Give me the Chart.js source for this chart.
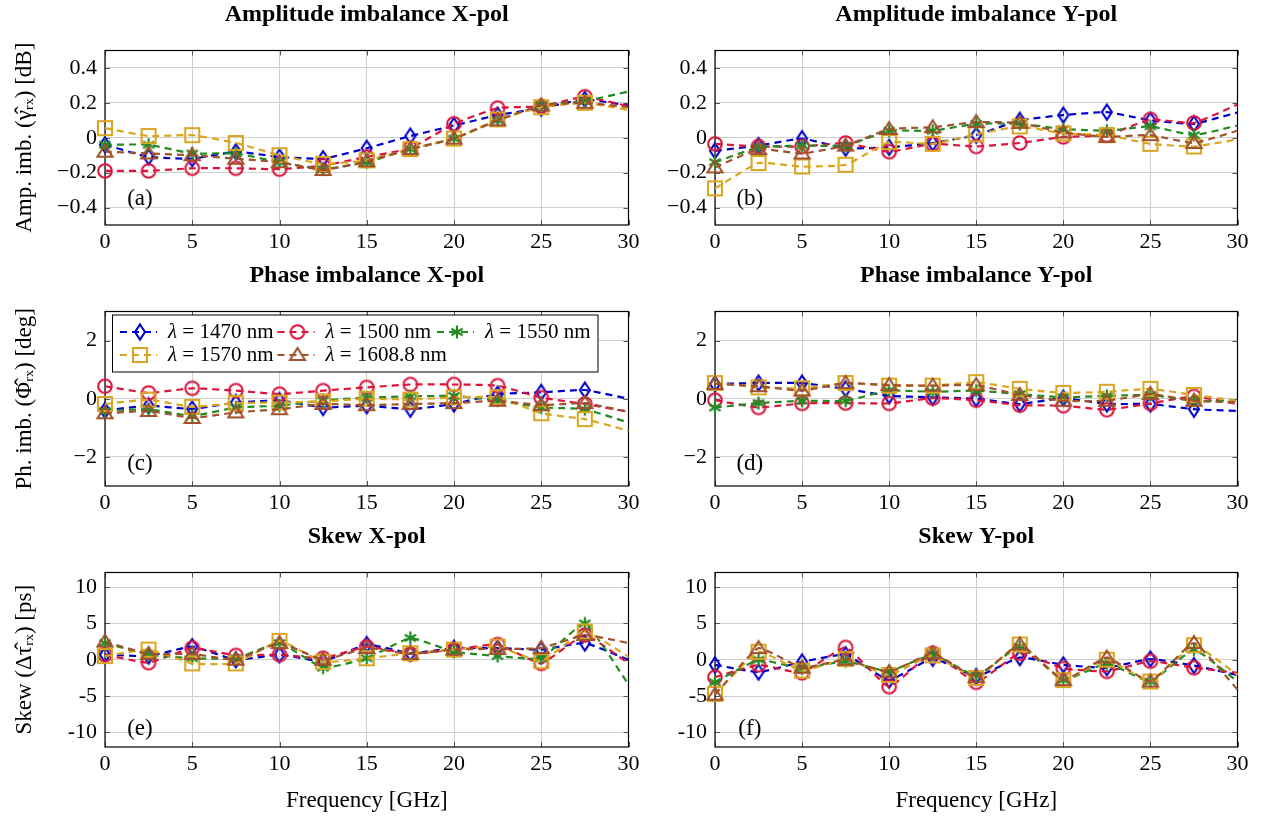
<!DOCTYPE html>
<html>
<head>
<meta charset="utf-8">
<script src="https://cdn.jsdelivr.net/npm/chart.js"></script>
<style>
  body { margin: 0; background: #fff; width: 1261px; height: 816px; overflow: hidden; position: relative; }
  canvas { position: absolute; }
</style>
</head>
<body>
<canvas id="pa"></canvas>
<canvas id="pb"></canvas>
<canvas id="pc"></canvas>
<canvas id="pd"></canvas>
<canvas id="pe"></canvas>
<canvas id="pf"></canvas>
<script>
// frequencies in GHz, last entry is the line end without marker
const FREQ = [0, 2.5, 5, 7.5, 10, 12.5, 15, 17.5, 20, 22.5, 25, 27.5, 30]
const WAVELENGTHS = ['1470', '1500', '1550', '1570', '1608.8']

const FREQ_TICKS = [0, 5, 10, 15, 20, 25, 30]
const AMP_TICKS = [-0.4, -0.2, 0, 0.2, 0.4]
const PHASE_TICKS = [-2, 0, 2]
const SKEW_TICKS = [-10, -5, 0, 5, 10]

// one row per wavelength, same order as WAVELENGTHS
const ampX = [
  [-0.04, -0.11, -0.12, -0.08, -0.11, -0.12, -0.06, 0.01, 0.07, 0.13, 0.17, 0.22, 0.185],
  [-0.19, -0.19, -0.175, -0.175, -0.18, -0.16, -0.11, -0.06, 0.08, 0.17, 0.18, 0.235, 0.18],
  [-0.04, -0.04, -0.09, -0.09, -0.14, -0.18, -0.14, -0.065, -0.005, 0.1, 0.185, 0.21, 0.265],
  [0.055, 0.01, 0.015, -0.03, -0.1, -0.15, -0.13, -0.065, -0.005, 0.105, 0.175, 0.2, 0.16],
  [-0.08, -0.09, -0.1, -0.12, -0.14, -0.185, -0.135, -0.065, -0.005, 0.1, 0.185, 0.2, 0.175],
]
const ampY = [
  [-0.075, -0.045, -0.005, -0.06, -0.055, -0.03, 0.015, 0.1, 0.13, 0.147, 0.1, 0.08, 0.145],
  [-0.035, -0.05, -0.05, -0.03, -0.08, -0.035, -0.05, -0.03, 0.005, 0.015, 0.105, 0.085, 0.19],
  [-0.14, -0.055, -0.045, -0.045, 0.04, 0.04, 0.08, 0.08, 0.05, 0.04, 0.065, 0.015, 0.07],
  [-0.29, -0.145, -0.165, -0.155, -0.025, -0.035, 0.02, 0.065, 0.025, 0.015, -0.035, -0.05, -0.01],
  [-0.17, -0.065, -0.09, -0.045, 0.05, 0.06, 0.09, 0.085, 0.03, 0.005, 0.015, -0.03, 0.04],
]
const phaseX = [
  [-0.4, -0.24, -0.35, -0.13, -0.06, -0.3, -0.24, -0.36, -0.18, 0.16, 0.22, 0.3, 0.0],
  [0.43, 0.2, 0.36, 0.28, 0.16, 0.28, 0.39, 0.49, 0.49, 0.45, 0.04, -0.18, -0.45],
  [-0.42, -0.36, -0.59, -0.3, -0.24, -0.06, 0.04, 0.08, 0.1, -0.06, -0.3, -0.36, -0.82],
  [-0.18, -0.03, -0.28, -0.15, -0.13, -0.09, 0.0, -0.03, 0.05, 0.05, -0.5, -0.7, -1.1],
  [-0.5, -0.42, -0.66, -0.47, -0.36, -0.18, -0.22, -0.18, -0.15, -0.07, -0.22, -0.15, -0.45],
]
const phaseY = [
  [0.51, 0.54, 0.54, 0.34, 0.1, 0.05, 0.0, -0.18, 0.02, -0.18, -0.18, -0.36, -0.42],
  [-0.05, -0.3, -0.16, -0.15, -0.16, 0.02, -0.05, -0.22, -0.24, -0.38, -0.16, 0.08, -0.18],
  [-0.3, -0.15, -0.07, -0.07, 0.28, 0.24, 0.28, 0.16, 0.05, 0.1, 0.13, -0.07, -0.07],
  [0.54, 0.39, 0.36, 0.54, 0.45, 0.45, 0.57, 0.34, 0.2, 0.24, 0.34, 0.13, -0.07],
  [0.51, 0.43, 0.28, 0.54, 0.47, 0.45, 0.47, 0.13, -0.07, -0.07, 0.16, -0.07, -0.13],
]
const skewX = [
  [0.7, 0.5, 1.8, 0.0, 0.7, -0.2, 2.1, 0.9, 1.6, 1.6, 1.4, 2.3, 0.0],
  [0.7, -0.4, 1.6, 0.6, 0.7, 0.2, 1.8, 0.8, 1.4, 2.1, -0.5, 3.4, -0.5],
  [2.3, 0.7, 0.2, 0.2, 2.3, -1.1, 0.2, 3.0, 1.1, 0.5, 0.2, 5.0, -3.4],
  [0.5, 1.4, -0.5, -0.5, 2.6, -0.3, 0.2, 0.9, 1.4, 1.8, -0.2, 3.9, 0.4],
  [2.5, 0.8, 0.8, 0.0, 2.3, 0.0, 1.6, 0.8, 1.4, 1.5, 1.6, 3.4, 2.3],
]
const skewY = [
  [-0.7, -1.7, -0.3, 0.7, -2.8, 0.2, -2.3, 0.3, -0.7, -1.1, 0.1, -0.8, -2.1],
  [-2.4, -0.7, -1.8, 1.7, -3.7, 0.9, -3.1, 0.9, -1.2, -1.6, -0.2, -1.1, -1.8],
  [-3.1, 0.0, -1.2, -0.2, -1.6, 0.7, -2.2, 1.8, -2.8, -0.5, -3.0, 1.4, -3.0],
  [-4.7, 1.1, -1.5, 0.1, -2.1, 0.6, -2.5, 2.1, -2.8, 0.0, -3.0, 2.0, -2.1],
  [-4.8, 1.6, -1.1, 0.0, -1.7, 0.9, -2.4, 2.1, -2.8, 0.3, -3.0, 2.3, -4.1],
]

const COLORS = ['#0000cc', '#dc143c', '#228b22', '#daa520', '#a0522d']
const MARKS = ['diamond', 'circle', 'asterisk', 'square', 'triangle']
const GRID = '#cfcfcf'
const SERIF = "'Liberation Serif', 'Times New Roman', Times, serif"

// pgfplots-like hollow marks
function markCanvas(kind, color) {
  const c = document.createElement('canvas')
  c.width = 22
  c.height = 22
  const g = c.getContext('2d')
  const m = 11
  g.strokeStyle = color
  g.lineWidth = 2.1
  g.beginPath()
  if (kind === 'diamond') {
    g.moveTo(m, m - 7.5); g.lineTo(m + 5, m); g.lineTo(m, m + 7.5); g.lineTo(m - 5, m); g.closePath()
  } else if (kind === 'circle') {
    g.arc(m, m, 6.8, 0, Math.PI * 2)
  } else if (kind === 'square') {
    g.rect(m - 7, m - 7, 14, 14)
  } else if (kind === 'triangle') {
    g.moveTo(m, m - 7); g.lineTo(m + 7.5, m + 5); g.lineTo(m - 7.5, m + 5); g.closePath()
  } else {
    g.lineWidth = 2.2
    for (const deg of [90, 30, 150]) {
      const a = deg * Math.PI / 180
      g.moveTo(m - Math.cos(a) * 6.5, m - Math.sin(a) * 6.5)
      g.lineTo(m + Math.cos(a) * 6.5, m + Math.sin(a) * 6.5)
    }
  }
  g.stroke()
  return c
}
const MARK_IMAGES = MARKS.map((k, i) => markCanvas(k, COLORS[i]))

const minusFmt = (digits) => (v) => {
  if (v === 0) return '0'
  return (v < 0 ? '\u2212' : '') + Math.abs(v).toFixed(digits)
}

const PANELS = [
  { id: 'pa', series: ampX, title: 'Amplitude imbalance X-pol', tag: '(a)', tagY: -0.35, left: true, row: 0,
    yMin: -0.5, yMax: 0.5, yTicks: AMP_TICKS, fmt: minusFmt(1), yTitle: 'Amp. imb. (\u03b3\u0302\u1d63\u2093) [dB]' },
  { id: 'pb', series: ampY, title: 'Amplitude imbalance Y-pol', tag: '(b)', tagY: -0.35, left: false, row: 0,
    yMin: -0.5, yMax: 0.5, yTicks: AMP_TICKS, fmt: minusFmt(1) },
  { id: 'pc', series: phaseX, title: 'Phase imbalance X-pol', tag: '(c)', tagY: -2.25, left: true, row: 1,
    yMin: -3, yMax: 3, yTicks: PHASE_TICKS, fmt: minusFmt(0), yTitle: 'Ph. imb. (\u03a6\u0302\u1d63\u2093) [deg]', legend: true },
  { id: 'pd', series: phaseY, title: 'Phase imbalance Y-pol', tag: '(d)', tagY: -2.25, left: false, row: 1,
    yMin: -3, yMax: 3, yTicks: PHASE_TICKS, fmt: minusFmt(0) },
  { id: 'pe', series: skewX, title: 'Skew X-pol', tag: '(e)', tagY: -9.5, left: true, row: 2,
    yMin: -12, yMax: 12, yTicks: SKEW_TICKS, fmt: (v) => String(v), yTitle: 'Skew (\u0394\u03c4\u0302\u1d63\u2093) [ps]' },
  { id: 'pf', series: skewY, title: 'Skew Y-pol', tag: '(f)', tagY: -9.5, left: false, row: 2,
    yMin: -12, yMax: 12, yTicks: SKEW_TICKS, fmt: (v) => String(v) },
]

const ROW_TOP = [0, 261, 522]

// black box with small inward ticks, drawn under the data
const framePlugin = {
  id: 'frame',
  beforeDatasetsDraw(chart) {
    const { ctx, chartArea: a, scales } = chart
    ctx.save()
    ctx.strokeStyle = '#555'
    ctx.lineWidth = 1
    ctx.beginPath()
    scales.x.ticks.forEach((t) => {
      const px = Math.round(scales.x.getPixelForValue(t.value)) + 0.5
      ctx.moveTo(px, a.top); ctx.lineTo(px, a.top + 5)
      ctx.moveTo(px, a.bottom); ctx.lineTo(px, a.bottom - 5)
    })
    scales.y.ticks.forEach((t) => {
      const py = Math.round(scales.y.getPixelForValue(t.value)) + 0.5
      ctx.moveTo(a.left, py); ctx.lineTo(a.left + 5, py)
      ctx.moveTo(a.right, py); ctx.lineTo(a.right - 5, py)
    })
    ctx.stroke()
    ctx.strokeStyle = '#000'
    ctx.lineWidth = 1.2
    ctx.strokeRect(a.left, a.top, a.right - a.left, a.bottom - a.top)
    ctx.restore()
  },
}

const tagPlugin = {
  id: 'panelTag',
  afterDatasetsDraw(chart, args, opts) {
    const { ctx, scales } = chart
    ctx.save()
    ctx.font = `23px ${SERIF}`
    ctx.fillStyle = '#000'
    ctx.textAlign = 'center'
    ctx.textBaseline = 'middle'
    ctx.fillText(opts.text, scales.x.getPixelForValue(2), scales.y.getPixelForValue(opts.y))
    ctx.restore()
  },
}

const boxLegendPlugin = {
  id: 'boxLegend',
  afterDatasetsDraw(chart) {
    const { ctx, chartArea: a } = chart
    const bx = a.left + 7.5
    const by = a.top + 3.5
    ctx.save()
    ctx.fillStyle = '#fff'
    ctx.fillRect(bx, by, 485.5, 57)
    ctx.strokeStyle = '#000'
    ctx.lineWidth = 1
    ctx.strokeRect(bx, by, 485.5, 57)
    const cols = [15, 172.5, 332]
    chart.data.datasets.forEach((ds, i) => {
      const x0 = a.left + cols[i % 3]
      const y = by + (i < 3 ? 17 : 40)
      ctx.strokeStyle = ds.borderColor
      ctx.lineWidth = ds.borderWidth
      ctx.setLineDash([7, 5])
      ctx.beginPath()
      ctx.moveTo(x0, y)
      ctx.lineTo(x0 + 37, y)
      ctx.stroke()
      ctx.setLineDash([])
      const img = MARK_IMAGES[i]
      ctx.drawImage(img, x0 + 20 - img.width / 2, y - img.height / 2)
      ctx.fillStyle = '#000'
      ctx.textAlign = 'left'
      ctx.textBaseline = 'middle'
      ctx.font = `italic 21px ${SERIF}`
      ctx.fillText('\u03bb', x0 + 48, y)
      const w = ctx.measureText('\u03bb').width
      ctx.font = `21px ${SERIF}`
      ctx.fillText(' = ' + WAVELENGTHS[i] + ' nm', x0 + 48 + w, y)
    })
    ctx.restore()
  },
}

function makeDatasets(series) {
  return series.map((vals, i) => ({
    label: '\u03bb = ' + WAVELENGTHS[i] + ' nm',
    data: vals.map((v, k) => ({ x: FREQ[k], y: v })),
    borderColor: COLORS[i],
    backgroundColor: COLORS[i],
    borderWidth: 2.2,
    borderDash: [7, 5],
    pointStyle: MARK_IMAGES[i],
    pointRadius: (ctx) => (ctx.dataIndex === FREQ.length - 1 ? 0 : 7),
    pointHoverRadius: 0,
    tension: 0.12,
    clip: false,
    order: series.length - 1 - i,
  }))
}

PANELS.forEach((p) => {
  const canvas = document.getElementById(p.id)
  const bottomRow = p.row === 2
  canvas.width = p.left ? 640 : 621
  canvas.height = bottomRow ? 294 : 261
  canvas.style.left = (p.left ? 0 : 640) + 'px'
  canvas.style.top = ROW_TOP[p.row] + 'px'

  const plugins = [framePlugin, tagPlugin]
  if (p.legend) plugins.push(boxLegendPlugin)

  new Chart(canvas, {
    type: 'line',
    data: { datasets: makeDatasets(p.series) },
    plugins,
    options: {
      responsive: false,
      animation: false,
      events: [],
      layout: { padding: { left: 0, right: p.left ? 11.5 : 23.5, top: 0, bottom: 0 } },
      scales: {
        x: {
          type: 'linear',
          min: 0,
          max: 30,
          afterBuildTicks: (s) => { s.ticks = FREQ_TICKS.map((v) => ({ value: v })) },
          afterFit: (s) => {
            s.height = bottomRow ? 69 : 36
            s.paddingLeft = 0
            s.paddingRight = 0
          },
          grid: { color: GRID, lineWidth: 1, drawTicks: false },
          border: { display: false },
          ticks: { font: { family: SERIF, size: 22 }, color: '#000', padding: 4, maxRotation: 0, autoSkip: false },
          title: bottomRow
            ? { display: true, text: 'Frequency [GHz]', font: { family: SERIF, size: 23 }, color: '#000', padding: { top: 0, bottom: 1 } }
            : { display: false },
        },
        y: {
          min: p.yMin,
          max: p.yMax,
          afterBuildTicks: (s) => { s.ticks = p.yTicks.map((v) => ({ value: v })) },
          afterFit: (s) => {
            s.width = p.left ? 105 : 75
            s.paddingTop = 0
            s.paddingBottom = 0
          },
          grid: { color: GRID, lineWidth: 1, drawTicks: false },
          border: { display: false },
          ticks: { font: { family: SERIF, size: 22 }, color: '#000', padding: 8, autoSkip: false, callback: p.fmt },
          title: p.yTitle
            ? { display: true, text: p.yTitle, font: { family: SERIF, size: 23 }, color: '#000', padding: { top: 11, bottom: 0 } }
            : { display: false },
        },
      },
      plugins: {
        legend: { display: false },
        tooltip: { enabled: false },
        title: {
          display: true,
          text: p.title,
          fullSize: false,
          color: '#000',
          font: { family: SERIF, size: 24, weight: 'bold' },
          padding: { top: 0.6, bottom: 21.1 },
        },
        panelTag: { text: p.tag, y: p.tagY },
      },
    },
  })
})
</script>
</body>
</html>
